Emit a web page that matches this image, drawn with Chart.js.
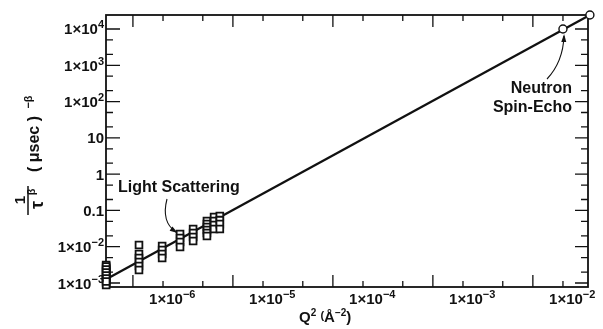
<!DOCTYPE html>
<html>
<head>
<meta charset="utf-8">
<script src="https://cdn.jsdelivr.net/npm/chart.js@4"></script>
<style>
  html, body { margin: 0; padding: 0; background: #fff; }
</style>
</head>
<body>
<canvas id="chart" width="603" height="329"></canvas>
<script>
// light scattering points: Q^2 (A^-2) and 1/tau^beta
var lsQ2 = [
  2.7e-7, 2.7e-7, 2.7e-7, 2.7e-7, 2.7e-7, 2.7e-7, 2.7e-7, 2.7e-7,
  2.7e-7, 2.7e-7, 2.7e-7, 2.7e-7, 2.7e-7, 2.7e-7,
  5.75e-7, 5.75e-7, 5.75e-7, 5.75e-7, 5.75e-7, 5.75e-7,
  9.8e-7, 9.8e-7, 9.8e-7, 9.8e-7,
  1.48e-6, 1.48e-6, 1.48e-6, 1.48e-6,
  2.0e-6, 2.0e-6, 2.0e-6, 2.0e-6,
  2.75e-6, 2.75e-6, 2.75e-6, 2.75e-6, 2.75e-6, 2.75e-6,
  3.24e-6, 3.24e-6, 3.24e-6, 3.24e-6,
  3.7e-6, 3.7e-6, 3.7e-6, 3.7e-6
];
var lsRate = [
  3.13e-3, 2.59e-3, 2.14e-3, 1.77e-3, 1.46e-3, 1.21e-3, 1.0e-3, 8.8e-4,
  2.85e-3, 2.35e-3, 1.95e-3, 1.6e-3, 1.33e-3, 1.1e-3,
  1.11e-2, 6.3e-3, 4.9e-3, 3.8e-3, 2.94e-3, 2.28e-3,
  1.05e-2, 8.1e-3, 6.3e-3, 4.9e-3,
  2.24e-2, 1.74e-2, 1.35e-2, 9.8e-3,
  3.08e-2, 2.39e-2, 1.85e-2, 1.44e-2,
  5.1e-2, 4.2e-2, 3.49e-2, 2.88e-2, 2.39e-2, 1.97e-2,
  6.6e-2, 5.1e-2, 3.96e-2, 3.08e-2,
  7.0e-2, 5.4e-2, 4.2e-2, 3.08e-2
];
// neutron spin-echo points
var nseQ2 = [1.0e-2, 1.86e-2];
var nseRate = [1.0e4, 2.43e4];
// straight line through both sets
var fitQ2 = [2.7e-7, 1.86e-2];
var fitRate = [1.27e-3, 2.43e4];

// axis ticks and labels
var xMajorTicks = [5e-7, 5e-6, 5e-5, 5e-4, 5e-3];
var xMinorTicks = [1e-6, 2.5e-6, 1e-5, 2.5e-5, 1e-4, 2.5e-4, 1e-3, 2.5e-3, 1e-2];
var xLabelValues = [1e-6, 1e-5, 1e-4, 1e-3, 1e-2];
var xLabelExp = ['\u22126', '\u22125', '\u22124', '\u22123', '\u22122'];
var yMajorTicks = [1e-3, 1e-2, 0.1, 1, 10, 1e2, 1e3, 1e4];
var yMinorTicks = [2e-3, 5e-3, 2e-2, 5e-2, 0.2, 0.5, 2, 5, 20, 50, 200, 500, 2e3, 5e3];
var yLabelValues = [1e4, 1e3, 1e2, 10, 1, 0.1, 1e-2, 1e-3];
var yLabelBase = ['1\u00d710', '1\u00d710', '1\u00d710', '10', '1', '0.1', '1\u00d710', '1\u00d710'];
var yLabelExp = ['4', '3', '2', '', '', '', '\u22122', '\u22123'];

var FONT = '"Liberation Sans", Arial, Helvetica, sans-serif';
var INK = '#111';

function toPoints(xs, ys) {
  return xs.map(function (x, i) { return { x: x, y: ys[i] }; });
}

// draws a row of text pieces (some raised as superscripts)
function drawParts(ctx, parts, x, y, align) {
  var total = 0;
  parts.forEach(function (p) {
    ctx.font = 'bold ' + p.s + 'px ' + FONT;
    p.w = ctx.measureText(p.t).width;
    total += p.w;
  });
  var cx = x;
  if (align === 'right') cx = x - total;
  else if (align === 'center') cx = x - total / 2;
  else if (align === 'base') cx = x - parts[0].w / 2;
  ctx.textAlign = 'left';
  ctx.textBaseline = 'alphabetic';
  parts.forEach(function (p) {
    ctx.font = 'bold ' + p.s + 'px ' + FONT;
    ctx.fillText(p.t, cx, y - (p.r || 0));
    cx += p.w;
  });
}

function rotText(ctx, text, x, y, size) {
  ctx.save();
  ctx.translate(x, y);
  ctx.rotate(-Math.PI / 2);
  ctx.font = 'bold ' + size + 'px ' + FONT;
  ctx.textAlign = 'center';
  ctx.textBaseline = 'middle';
  ctx.fillText(text, 0, 0);
  ctx.restore();
}

function arrow(ctx, x0, y0, cx, cy, x1, y1) {
  ctx.beginPath();
  ctx.moveTo(x0, y0);
  ctx.quadraticCurveTo(cx, cy, x1, y1);
  ctx.lineWidth = 1.1;
  ctx.stroke();
  var a = Math.atan2(y1 - cy, x1 - cx);
  ctx.beginPath();
  ctx.moveTo(x1 + 2 * Math.cos(a), y1 + 2 * Math.sin(a));
  ctx.lineTo(x1 - 6 * Math.cos(a) + 2.5 * Math.sin(a), y1 - 6 * Math.sin(a) - 2.5 * Math.cos(a));
  ctx.lineTo(x1 - 6 * Math.cos(a) - 2.5 * Math.sin(a), y1 - 6 * Math.sin(a) + 2.5 * Math.cos(a));
  ctx.closePath();
  ctx.fill();
}

var framePlugin = {
  id: 'frame',
  beforeDatasetsDraw: function (chart) {
    var ctx = chart.ctx, a = chart.chartArea;
    var xs = chart.scales.x, ys = chart.scales.y;
    ctx.save();
    ctx.strokeStyle = INK;
    ctx.lineWidth = 1.3;
    ctx.beginPath();
    xMajorTicks.forEach(function (v) {
      var px = xs.getPixelForValue(v);
      ctx.moveTo(px, a.bottom); ctx.lineTo(px, a.bottom - 12);
      ctx.moveTo(px, a.top); ctx.lineTo(px, a.top + 12);
    });
    xMinorTicks.forEach(function (v) {
      var px = xs.getPixelForValue(v);
      ctx.moveTo(px, a.bottom); ctx.lineTo(px, a.bottom - 6);
      ctx.moveTo(px, a.top); ctx.lineTo(px, a.top + 6);
    });
    yMajorTicks.forEach(function (v) {
      var py = ys.getPixelForValue(v);
      ctx.moveTo(a.left, py); ctx.lineTo(a.left + 14, py);
      ctx.moveTo(a.right, py); ctx.lineTo(a.right - 13, py);
    });
    yMinorTicks.forEach(function (v) {
      var py = ys.getPixelForValue(v);
      ctx.moveTo(a.left, py); ctx.lineTo(a.left + 7, py);
      ctx.moveTo(a.right, py); ctx.lineTo(a.right - 7, py);
    });
    ctx.stroke();
    ctx.lineWidth = 1.8;
    ctx.strokeRect(a.left, a.top, a.right - a.left, a.bottom - a.top);
    ctx.restore();
  },
  afterDraw: function (chart) {
    var ctx = chart.ctx, a = chart.chartArea;
    var xs = chart.scales.x, ys = chart.scales.y;
    ctx.save();
    ctx.fillStyle = INK;
    ctx.strokeStyle = INK;

    // y tick labels
    yLabelValues.forEach(function (v, i) {
      var py = ys.getPixelForValue(v);
      var parts = [{ t: yLabelBase[i], s: 15 }];
      if (yLabelExp[i]) parts.push({ t: yLabelExp[i], s: 11, r: 6 });
      drawParts(ctx, parts, a.left - 2, py + 5.5, 'right');
    });
    // x tick labels
    xLabelValues.forEach(function (v, i) {
      var px = xs.getPixelForValue(v);
      drawParts(ctx, [{ t: '1\u00d710', s: 15 }, { t: xLabelExp[i], s: 11, r: 6 }], px + 3, a.bottom + 17, 'base');
    });
    // x title
    drawParts(ctx, [
      { t: 'Q', s: 15 }, { t: '2', s: 10, r: 6 }, { t: ' ', s: 15 },
      { t: '(', s: 11, r: 3 }, { t: '\u00c5', s: 15 }, { t: '\u22122', s: 10, r: 6 }, { t: ')', s: 15 }
    ], 299, 322, 'left');

    // y title: 1 / tau^beta ( usec )^-beta, rotated
    rotText(ctx, '1', 21, 200, 15);
    ctx.lineWidth = 1.5;
    ctx.beginPath();
    ctx.moveTo(28, 186); ctx.lineTo(28, 215);
    ctx.stroke();
    rotText(ctx, '\u03c4', 38, 205, 18);
    rotText(ctx, '\u03b2', 32, 192, 11);
    rotText(ctx, '( \u03bcsec )', 35, 144, 16);
    rotText(ctx, '\u2212\u03b2', 29, 102, 11);

    // annotations
    ctx.font = 'bold 16px ' + FONT;
    ctx.textBaseline = 'middle';
    ctx.textAlign = 'left';
    ctx.fillText('Light Scattering', 118, 188);
    ctx.textAlign = 'right';
    ctx.fillText('Neutron', 572, 89);
    ctx.fillText('Spin-Echo', 572, 108);
    arrow(ctx, 167, 199, 161, 222, 176, 232);
    arrow(ctx, 547, 79, 563, 62, 564, 36);
    ctx.restore();
  }
};

var chart = new Chart(document.getElementById('chart'), {
  type: 'scatter',
  data: {
    datasets: [
      {
        label: 'Light Scattering',
        data: toPoints(lsQ2, lsRate),
        pointStyle: 'rect',
        pointRadius: 4.8,
        pointBackgroundColor: '#fff',
        pointBorderColor: INK,
        pointBorderWidth: 1.8,
        clip: false
      },
      {
        label: 'Neutron Spin-Echo',
        data: toPoints(nseQ2, nseRate),
        pointStyle: 'circle',
        pointRadius: 4,
        pointBackgroundColor: '#fff',
        pointBorderColor: INK,
        pointBorderWidth: 1.4,
        clip: false
      },
      {
        label: 'fit',
        data: toPoints(fitQ2, fitRate),
        showLine: true,
        pointRadius: 0,
        borderColor: INK,
        borderWidth: 2.3,
        clip: false
      }
    ]
  },
  options: {
    responsive: false,
    animation: false,
    devicePixelRatio: 1,
    layout: { padding: { left: 106, right: 15, top: 15, bottom: 42 } },
    plugins: { legend: { display: false }, tooltip: { enabled: false } },
    scales: {
      x: { type: 'logarithmic', min: 2.69e-7, max: 1.78e-2, display: false },
      y: { type: 'logarithmic', min: 7.76e-4, max: 2.43e4, display: false }
    }
  },
  plugins: [framePlugin]
});
</script>
</body>
</html>
